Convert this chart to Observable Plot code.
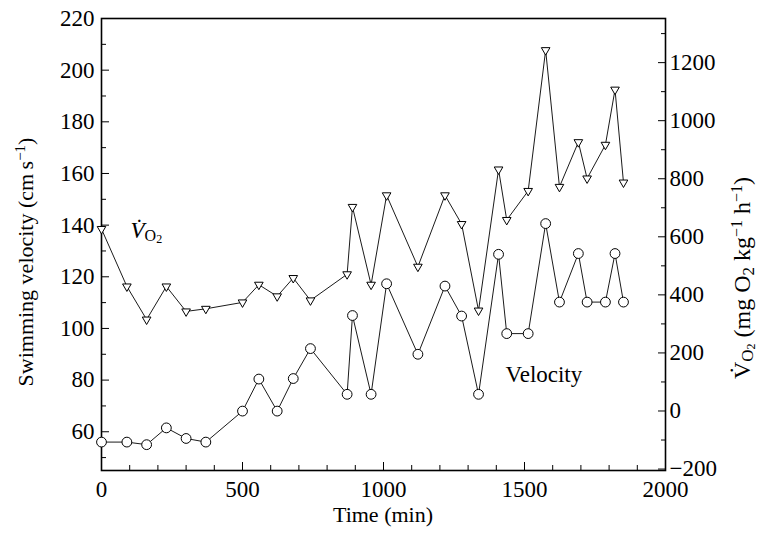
<!DOCTYPE html>
<html>
<head>
<meta charset="utf-8">
<script src="https://cdn.jsdelivr.net/npm/d3@7"></script>
<script src="https://cdn.jsdelivr.net/npm/@observablehq/plot@0.6"></script>
<style>
  html, body { margin: 0; padding: 0; background: #fff; }
  #chart svg { display: block; }
  #chart svg, #chart svg text, #chart svg tspan { font-family: "Liberation Serif", "Times New Roman", Times, serif !important; }
</style>
</head>
<body>
<div id="chart"></div>
<script>
// ---- data ----
const timeMin = [0, 90, 160, 230, 300, 370, 500, 558, 623, 680, 741, 871, 890, 956, 1011, 1122, 1218, 1277, 1337, 1408, 1437, 1513, 1575, 1624, 1691, 1722, 1787, 1821, 1851];
const velocity = [56, 56, 55, 61.5, 57.4, 56, 68, 80.4, 68, 80.6, 92.2, 74.5, 105, 74.5, 117.3, 90, 116.4, 104.8, 74.5, 128.7, 98, 98, 140.6, 110.2, 129, 110.2, 110.2, 129, 110.2];
const vo2 = [627, 429, 315, 429, 343, 352, 374, 435, 395, 458, 381, 471, 703, 435, 743, 497, 743, 644, 346, 832, 658, 758, 1243, 772, 926, 801, 917, 1107, 787];

const xTicks = [0, 500, 1000, 1500, 2000];
const xMinorTicks = [100, 200, 300, 400, 600, 700, 800, 900, 1100, 1200, 1300, 1400, 1600, 1700, 1800, 1900];
const leftTicks = [60, 80, 100, 120, 140, 160, 180, 200, 220];
const leftMinorTicks = [50, 70, 90, 110, 130, 150, 170, 190, 210];
const rightTicks = [-200, 0, 200, 400, 600, 800, 1000, 1200];
const rightMinorTicks = [-100, 100, 300, 500, 700, 900, 1100, 1300];

const velDomain = [45, 220];
const vo2Domain = [-205, 1352];

const noteText = ["VO2", "Velocity"];
const noteTime = [103, 1433];
const noteValue = [134.9, 79.3];

// ---- mapping of the right (VO2) axis onto the left scale ----
const k = (velDomain[1] - velDomain[0]) / (vo2Domain[1] - vo2Domain[0]);
const toLeft = o => velDomain[0] + (o - vo2Domain[0]) * k;
const fromLeft = v => vo2Domain[0] + (v - velDomain[0]) / k;
const fmt = n => (n < 0 ? "\u2212" + Math.abs(n) : String(n));

const rows = timeMin.map((t, i) => ({t, v: velocity[i], o: toLeft(vo2[i])}));
const notes = noteText.map((s, i) => ({s, t: noteTime[i], v: noteValue[i]}));

const W = 757, H = 535;
const M = {left: 101, right: 92, top: 18, bottom: 65};
const SERIF = "'Liberation Serif', 'Times New Roman', Times, serif";

const plot = Plot.plot({
  width: W,
  height: H,
  marginLeft: M.left,
  marginRight: M.right,
  marginTop: M.top,
  marginBottom: M.bottom,
  style: {fontFamily: SERIF, fontSize: "23px", color: "#000", background: "#fff", overflow: "visible"},
  x: {domain: [0, 2000]},
  y: {domain: velDomain},
  marks: [
    // ticks (inward)
    Plot.axisX(xTicks, {anchor: "bottom", tickSize: -8, tickFormat: () => "", label: null, strokeWidth: 1}),
    Plot.axisX(xMinorTicks, {anchor: "bottom", tickSize: -5, tickFormat: () => "", label: null, strokeWidth: 1}),
    Plot.axisY(leftTicks, {anchor: "left", tickSize: -8, tickFormat: () => "", label: null, strokeWidth: 1}),
    Plot.axisY(leftMinorTicks, {anchor: "left", tickSize: -5, tickFormat: () => "", label: null, strokeWidth: 1}),
    Plot.axisY(rightTicks.map(toLeft), {anchor: "right", tickSize: -8, tickFormat: () => "", label: null, strokeWidth: 1}),
    Plot.axisY(rightMinorTicks.map(toLeft), {anchor: "right", tickSize: -5, tickFormat: () => "", label: null, strokeWidth: 1}),
    // tick labels
    Plot.axisX(xTicks, {anchor: "bottom", tickSize: 0, tickPadding: 10, label: null, fontSize: 23, tickFormat: d => String(d)}),
    Plot.axisY(leftTicks, {anchor: "left", tickSize: 0, tickPadding: 7, label: null, fontSize: 23, tickFormat: d => String(d)}),
    Plot.axisY(rightTicks.map(toLeft), {anchor: "right", tickSize: 0, tickPadding: 4, label: null, fontSize: 23, tickFormat: d => fmt(Math.round(fromLeft(d)))}),
    Plot.frame({stroke: "#000", strokeWidth: 1.6}),
    // series
    Plot.line(rows, {x: "t", y: "o", stroke: "#000", strokeWidth: 0.9}),
    Plot.line(rows, {x: "t", y: "v", stroke: "#000", strokeWidth: 0.9}),
    Plot.dot(rows, {x: "t", y: "o", symbol: "triangle", rotate: 180, r: 3.2, fill: "#fff", stroke: "#000", strokeWidth: 1}),
    Plot.dot(rows, {x: "t", y: "v", r: 4.9, fill: "#fff", stroke: "#000", strokeWidth: 1}),
    // annotations
    Plot.text(notes, {x: "t", y: "v", text: "s", textAnchor: "start", lineAnchor: "bottom", fontSize: 23, fill: "#000"})
  ]
});

document.getElementById("chart").appendChild(plot);

const svg = d3.select(plot);

// rich text for the in-plot V̇O2 label
svg.selectAll("text").filter(function () { return this.textContent === "VO2"; }).each(function () {
  const t = d3.select(this);
  t.text(null);
  t.append("tspan").attr("font-style", "italic").text("V\u0307");
  t.append("tspan").attr("font-size", 16).attr("dy", 3).text("O");
  t.append("tspan").attr("font-size", 12).attr("dy", 2).text("2");
});

// axis titles
const plotCenterX = M.left + (W - M.left - M.right) / 2;

svg.append("text")
  .attr("x", plotCenterX).attr("y", 522)
  .attr("text-anchor", "middle")
  .attr("font-size", 22)
  .text("Time (min)");

const lt = svg.append("text")
  .attr("transform", "translate(33,262) rotate(-90)")
  .attr("text-anchor", "middle")
  .attr("font-size", 22);
lt.append("tspan").text("Swimming velocity (cm\u2009s");
lt.append("tspan").attr("font-size", 15).attr("dy", -8).text("\u22121");
lt.append("tspan").attr("dy", 8).text(")");

const rt = svg.append("text")
  .attr("transform", "translate(750,278) rotate(-90)")
  .attr("text-anchor", "middle")
  .attr("font-size", 24);
rt.append("tspan").text("V\u0307");
rt.append("tspan").attr("font-size", 17).attr("dy", 3).text("O");
rt.append("tspan").attr("font-size", 12).attr("dy", 2).text("2");
rt.append("tspan").attr("dy", -5).text(" (mg O");
rt.append("tspan").attr("font-size", 17).attr("dy", 4).text("2");
rt.append("tspan").attr("dy", -4).text(" kg");
rt.append("tspan").attr("font-size", 16).attr("dy", -8).text("\u22121");
rt.append("tspan").attr("dy", 8).text(" h");
rt.append("tspan").attr("font-size", 16).attr("dy", -8).text("\u22121");
rt.append("tspan").attr("dy", 8).text(")");
</script>
</body>
</html>
